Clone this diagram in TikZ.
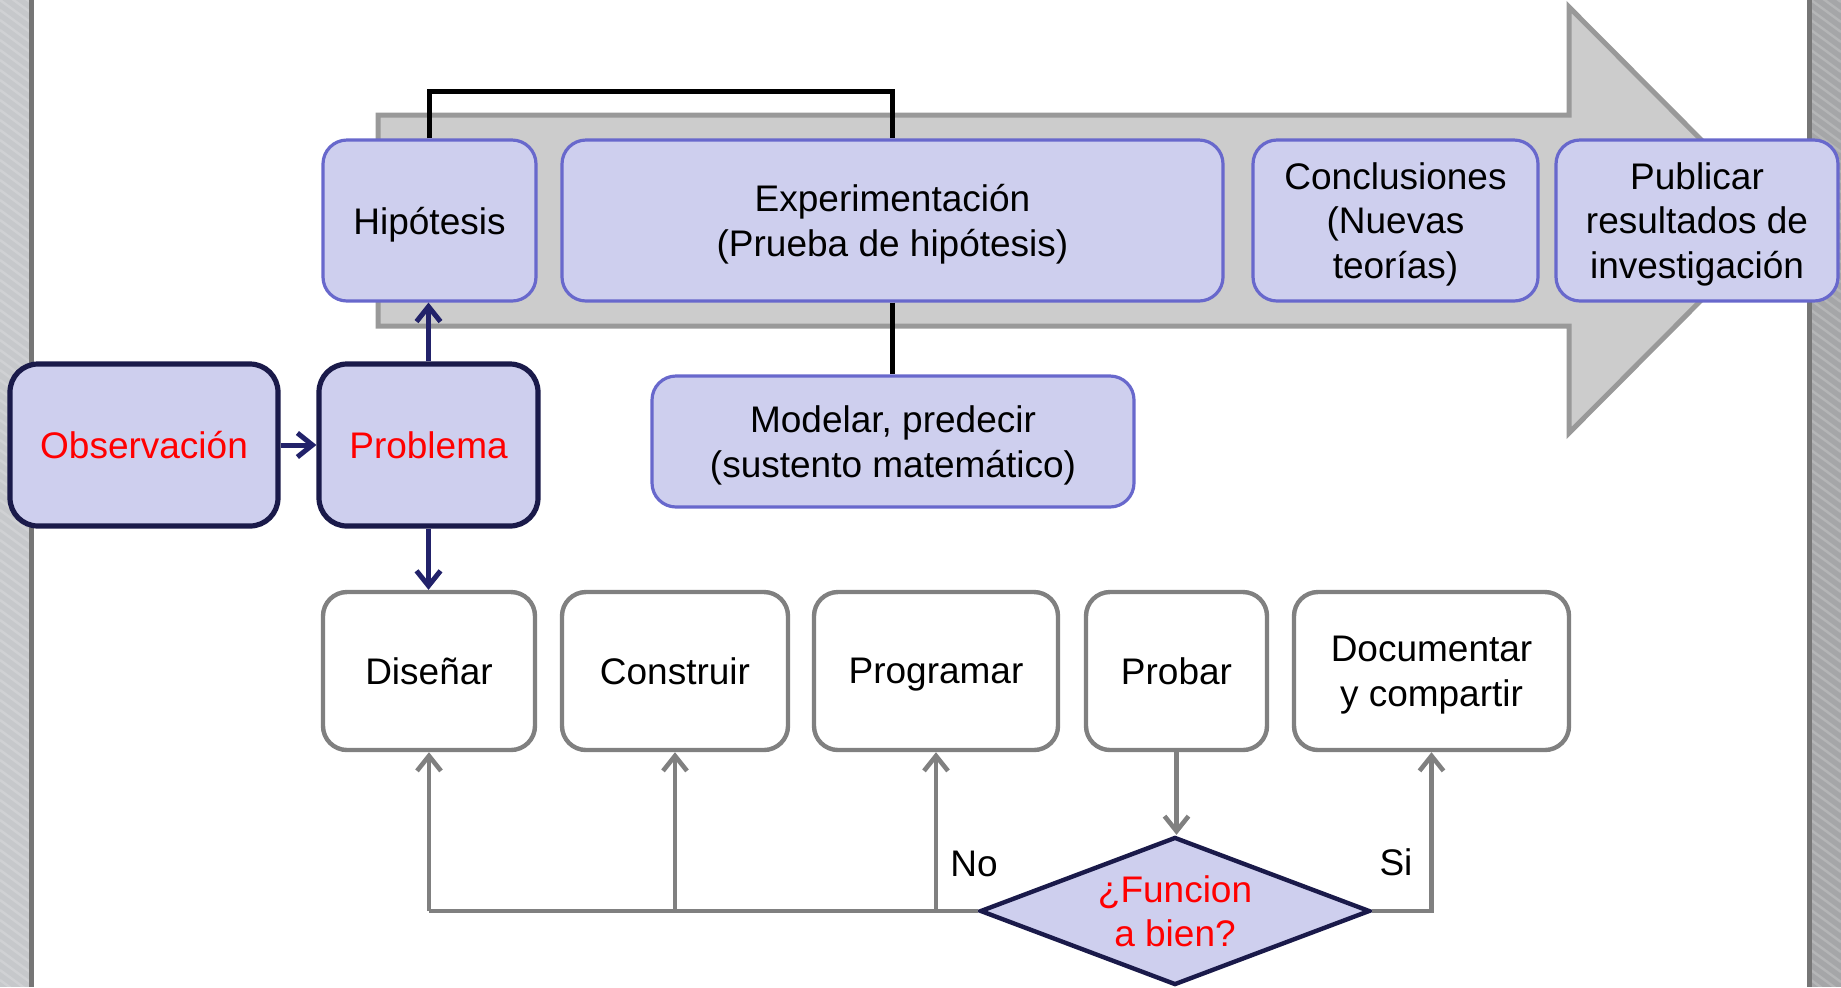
\documentclass[tikz,border=0pt]{standalone}
\usepackage{fontspec}
\setmainfont{Liberation Sans}
\usetikzlibrary{arrows.meta,shapes.geometric}

\definecolor{boxfill}{RGB}{206,207,238}
\definecolor{boxline}{RGB}{104,104,204}
\definecolor{navy}{RGB}{26,26,74}
\definecolor{navyarr}{RGB}{34,34,106}
\definecolor{grayline}{RGB}{128,128,128}
\definecolor{bigfill}{RGB}{204,204,204}
\definecolor{bigline}{RGB}{153,153,153}
\definecolor{leftstrip}{RGB}{198,200,203}
\definecolor{rightstrip}{RGB}{165,166,168}
\definecolor{stripedge}{RGB}{118,118,118}

\begin{document}
\begin{tikzpicture}[x=0.5pt,y=-0.5pt,
  every node/.style={font=\fontsize{18.5}{22.3}\selectfont, align=center, inner sep=0pt, text depth=0pt},
  bluebox/.style={draw=boxline, fill=boxfill, line width=1.6pt, rounded corners=12pt, minimum height=80.5pt},
  navybox/.style={draw=navy, fill=boxfill, line width=2.6pt, rounded corners=14pt, minimum height=81pt, text=red},
  graybox/.style={draw=grayline, fill=white, line width=2.2pt, rounded corners=12pt, minimum height=79pt},
  navyarrow/.style={draw=navyarr, line width=2.5pt, -{Straight Barb[length=7.5pt,width=12pt]}},
  grayarrow/.style={draw=grayline, line width=2.3pt, -{Straight Barb[length=7.5pt,width=12pt]}},
  grayconn/.style={draw=grayline, line width=2.3pt},
  bracket/.style={draw=black, line width=2.5pt},
  stripe/.style={draw=white, opacity=0.18, line width=1.2pt},
]
\useasboundingbox (0,0) rectangle (1841,987);
\clip (0,0) rectangle (1841,987);

% side frames with fine diagonal stripes
\begin{scope}
  \clip (0,0) rectangle (30,987);
  \fill[leftstrip] (0,0) rectangle (30,987);
  \foreach \k in {-40,-30,...,1000} \draw[stripe] (0,\k) -- (30,\k+22);
\end{scope}
\fill[stripedge] (29,0) rectangle (34,987);
\begin{scope}
  \clip (1811,0) rectangle (1841,987);
  \fill[rightstrip] (1811,0) rectangle (1841,987);
  \foreach \k in {-40,-30,...,1000} \draw[stripe] (1811,\k) -- (1841,\k+22);
\end{scope}
\fill[stripedge] (1807,0) rectangle (1812,987);

% large process arrow behind the upper row
\filldraw[fill=bigfill, draw=bigline, line width=2.5pt]
  (378,115) -- (1569,115) -- (1569,7) -- (1781,220) -- (1569,433)
  -- (1569,326) -- (378,326) -- cycle;

% upper row
\node[bluebox, minimum width=106.5pt] (hip) at (429.5,220.5) {Hipótesis};
\node[bluebox, minimum width=330.5pt] (exp) at (892.5,220.5) {Experimentación\\(Prueba de hipótesis)};
\node[bluebox, minimum width=142.5pt] (conc) at (1395.5,220.5) {Conclusiones\\(Nuevas\\teorías)};
\node[bluebox, minimum width=141pt] (pub) at (1697,220.5) {Publicar\\resultados de\\investigación};

% model box
\node[bluebox, minimum width=241pt, minimum height=65.5pt] (mod) at (893,441.5) {Modelar, predecir\\(sustento matemático)};

% start boxes
\node[navybox, minimum width=134pt] (obs) at (144,445) {Observación};
\node[navybox, minimum width=109.5pt] (prob) at (428.5,445) {Problema};

% lower row
\node[graybox, minimum width=106pt] (dis) at (429,671) {Diseñar};
\node[graybox, minimum width=113pt] (cons) at (675,671) {Construir};
\node[graybox, minimum width=122pt] (prog) at (936,671) {Programar};
\node[graybox, minimum width=90.5pt] (prob2) at (1176.5,671) {Probar};
\node[graybox, minimum width=137.5pt] (doc) at (1431.5,671) {Documentar\\y compartir};

% decision
\node[diamond, aspect=2.6, draw=navy, fill=boxfill, line width=2.2pt,
      minimum width=195pt, minimum height=74pt, text=red] (dia) at (1175,911) {¿Funcion\\a bien?};

% bracket joining hypothesis and experimentation
\coordinate (br) at (892.5,91.5);
\draw[bracket] (hip.north) |- (br) -- (exp.north);
\draw[bracket] (exp.south) -- (exp.south |- mod.north);

% navy arrows
\draw[navyarrow] (obs.east) -- (prob.west);
\draw[navyarrow] (prob.north) -- (prob.north |- hip.south);
\draw[navyarrow] (prob.south) -- (prob.south |- dis.north);

% feedback loop
\coordinate (j1) at (dis.south |- dia.west);
\coordinate (j2) at (cons.south |- dia.west);
\coordinate (j3) at (prog.south |- dia.west);
\draw[grayconn] (dia.west) -- (j1);
\draw[grayarrow] (j1) -- (dis.south);
\draw[grayarrow] (j2) -- (cons.south);
\draw[grayarrow] (j3) -- (prog.south);
\draw[grayarrow] (prob2.south) -- (prob2.south |- dia.north);
\draw[grayarrow] (dia.east) -| (doc.south);

\node (no) at (974,864) {No};
\node (si) at (1396,862) {Si};
\end{tikzpicture}
\end{document}
